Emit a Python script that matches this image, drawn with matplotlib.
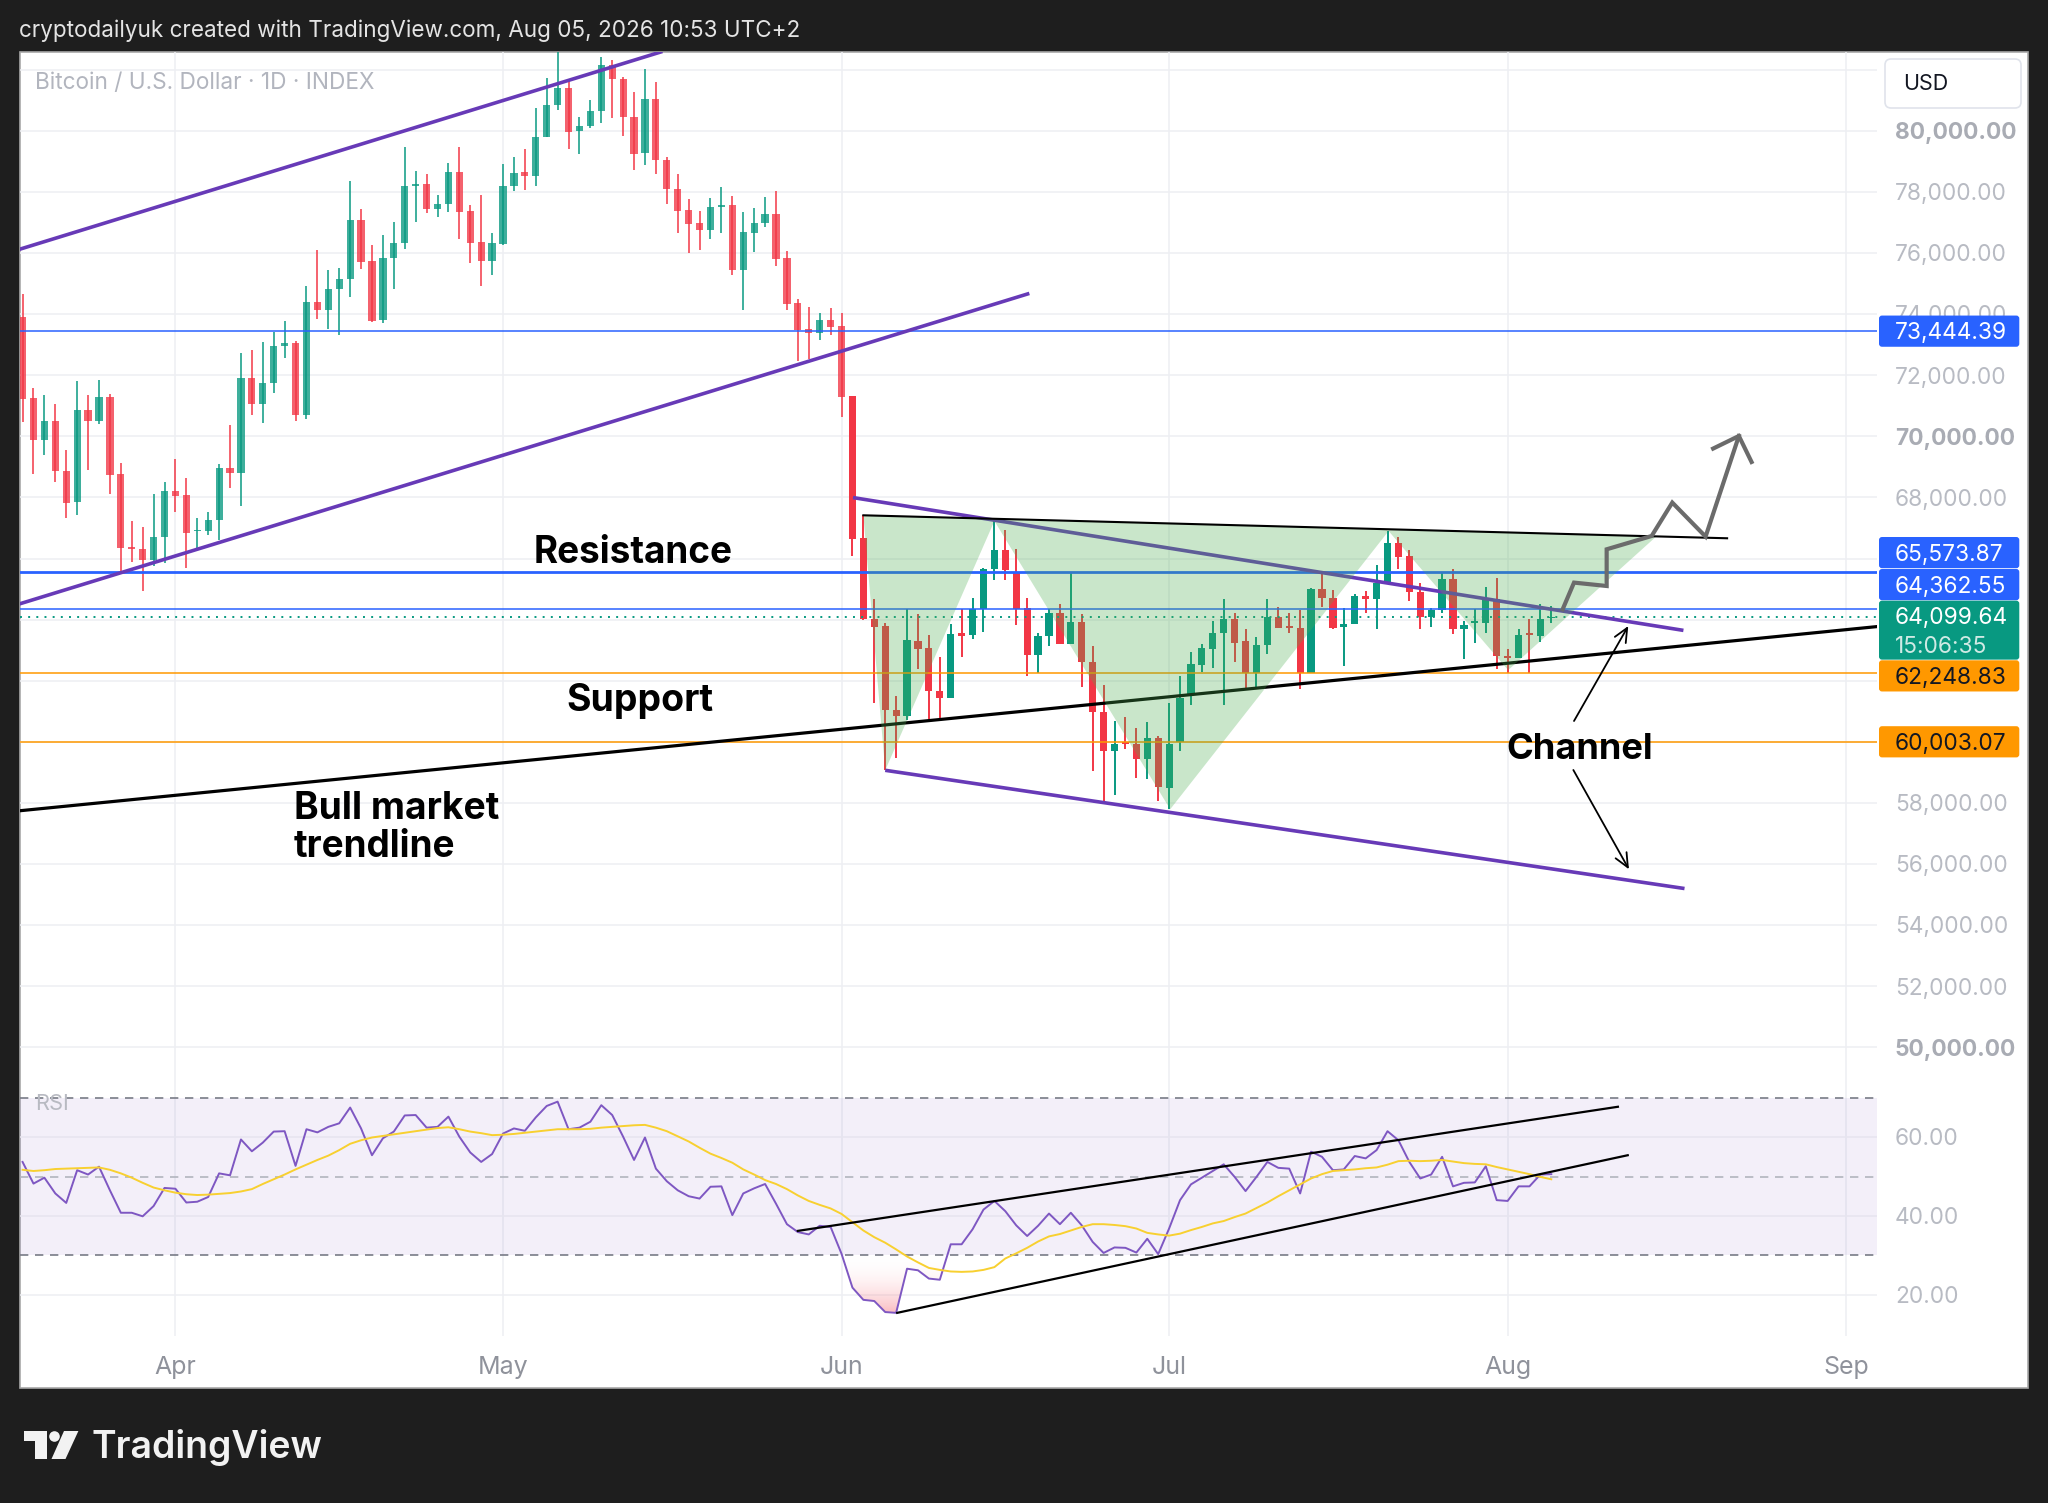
import matplotlib
matplotlib.use("Agg")
import matplotlib.pyplot as plt
import numpy as np
from matplotlib.patches import Rectangle, FancyBboxPatch, Polygon, Circle
from matplotlib.colors import LinearSegmentedColormap

# ---------------- DATA ----------------
# daily candles, index 0 = Mar 18 ... index 140 = Aug 5
opens = [73920, 71247, 69883, 70494, 68879, 67853, 70875, 70505, 71279, 68759,
         66359, 66304, 65955, 66719, 68203, 68072, 66894, 66904, 67254, 68967,
         68814, 71901, 71061, 71759, 72960, 73057, 70690, 74410, 74127, 74814,
         75163, 77094, 75730, 73815, 75829, 76318, 78190, 78255, 77428, 77613,
         78658, 77363, 76351, 75741, 76296, 78190, 78658, 78517, 79801, 80857,
         81401, 79986, 80149, 80639, 82163, 81706, 80454, 79279, 81042, 79039,
         78103, 77400, 76975, 76757, 77520, 77563, 75449, 76670, 76997, 77291,
         75853, 74360, 73509, 73400, 73803, 73618, 71308, 66687, 64036, 63796,
         61047, 60851, 63316, 63065, 61669, 61440, 63578, 63491, 64364, 65673,
         66273, 65520, 64396, 62847, 63469, 64211, 63218, 63938, 62629, 60992,
         59705, 60011, 59945, 59454, 60142, 58494, 60000, 61559, 62519, 63054,
         63577, 64014, 63305, 62269, 63163, 64090, 63796, 63720, 62269, 64996,
         64701, 63774, 63872, 64778, 64669, 65236, 66523, 66087, 64900, 64101,
         64320, 65323, 63687, 63905, 63905, 64690, 62814, 62759, 63545, 63468,
         64047]
highs = [74672, 71585, 71345, 71061, 69567, 71803, 71366, 71858, 71377, 69119,
         67243, 67046, 68104, 68508, 69250, 68628, 67330, 67526, 69108, 70374,
         72741, 72828, 73101, 73418, 73789, 73123, 74912, 76102, 75447, 75501,
         78360, 77433, 76253, 76590, 77004, 79474, 78691, 78582, 77896, 78952,
         79474, 77559, 77896, 76666, 78919, 79137, 79420, 80748, 81727, 82800,
         81618, 80454, 81020, 82413, 82326, 81749, 81270, 82021, 81597, 79148,
         78577, 77760, 77367, 77815, 78163, 77869, 77346, 77466, 77847, 78032,
         76071, 74490, 74239, 74054, 74217, 74032, 71308, 67418, 64669, 63905,
         61505, 64342, 64178, 63491, 62793, 63851, 64342, 64724, 65706, 67222,
         66927, 66327, 64724, 63578, 64342, 64506, 65520, 64178, 63142, 61854,
         60687, 60829, 60458, 60665, 60196, 61265, 62160, 62927, 63196, 63960,
         64669, 64210, 63687, 63447, 64669, 64429, 64210, 64320, 65051, 65487,
         64974, 64396, 64832, 64941, 65782, 66905, 66720, 66272, 65200, 64396,
         65520, 65672, 63960, 64342, 65083, 65378, 63054, 63709, 64036, 64505,
         64450]
lows = [70472, 68770, 69392, 68519, 67340, 67439, 68901, 70396, 68127, 65486,
        65900, 64941, 65759, 65868, 67526, 65704, 66359, 66763, 66599, 68301,
        67722, 70701, 70450, 71410, 72567, 70505, 70581, 73854, 73527, 73320,
        74574, 75469, 73750, 73706, 74838, 76144, 77014, 77298, 77178, 77341,
        76470, 75687, 74925, 75295, 76280, 78027, 78060, 78190, 79800, 80693,
        79420, 79246, 80095, 80258, 80421, 79823, 78712, 78898, 78593, 77613,
        76670, 76016, 76103, 76474, 76670, 75297, 74141, 76038, 76855, 75580,
        74141, 72474, 72528, 73160, 73313, 70620, 66097, 63990, 61287, 59072,
        59487, 60720, 62400, 60742, 60742, 61440, 62782, 63382, 63611, 65291,
        65291, 63829, 62160, 62269, 63142, 63200, 63200, 61811, 59050, 58068,
        58265, 59760, 58821, 58800, 58068, 57796, 59700, 61200, 62301, 62410,
        61200, 62629, 61777, 61723, 62869, 63741, 63578, 61745, 62250, 64429,
        63687, 62487, 63850, 64232, 63709, 65236, 65651, 64600, 63687, 63774,
        64232, 63545, 62705, 63229, 63556, 62378, 62269, 62750, 62269, 63272,
        63905]
closes = [71236, 69883, 70494, 68868, 67821, 70875, 70505, 71279, 68748, 66359,
          66326, 65955, 66708, 68214, 68050, 66850, 66937, 67265, 68977, 68814,
          71901, 71072, 71759, 72948, 73046, 70690, 74410, 74127, 74814, 75163,
          77094, 75720, 73782, 75850, 76340, 78212, 78255, 77428, 77613, 78658,
          77341, 76329, 75741, 76318, 78212, 78625, 78517, 79812, 80857, 81401,
          79953, 80149, 80661, 82163, 81695, 80443, 79246, 81042, 79039, 78103,
          77374, 76943, 76757, 77509, 77563, 75449, 76692, 76997, 77270, 75820,
          74327, 73487, 73378, 73803, 73596, 71275, 66642, 64014, 63763, 61036,
          60851, 63327, 63054, 61658, 61440, 63534, 63469, 64342, 65673, 66273,
          65629, 64364, 62847, 63469, 64211, 63218, 63938, 62618, 60981, 59705,
          59923, 59923, 59454, 60142, 58527, 59945, 61450, 62541, 63087, 63577,
          64014, 63250, 62269, 63163, 64101, 63741, 63741, 62269, 65018, 64701,
          63741, 63872, 64778, 64669, 65214, 66523, 66065, 64900, 64101, 64320,
          65323, 63687, 63840, 63949, 64647, 62814, 62759, 63490, 63512, 64036,
          64099.64]
rsi = [53.7, 48.2, 49.7, 45.7, 43.3, 51.6, 50.5, 52.5, 46.5, 40.8,
       40.8, 39.9, 42.5, 47.1, 46.9, 43.4, 43.6, 44.8, 50.8, 50.3,
       59.4, 56.4, 58.6, 61.4, 61.5, 52.7, 62.0, 61.2, 62.6, 63.5,
       67.5, 62.2, 55.4, 59.7, 61.4, 65.5, 65.6, 62.4, 62.6, 65.2,
       60.1, 56.1, 53.7, 55.7, 60.9, 62.2, 61.6, 65.0, 67.9, 69.0,
       62.0, 62.4, 63.9, 68.1, 65.6, 60.1, 54.2, 59.9, 52.0, 48.8,
       46.5, 45.0, 44.4, 47.4, 47.5, 40.2, 45.7, 47.0, 48.1, 43.1,
       37.9, 35.9, 35.3, 37.5, 37.2, 30.4, 21.8, 18.7, 18.4, 15.6,
       15.4, 26.6, 26.2, 24.1, 23.8, 32.8, 32.8, 36.6, 41.6, 43.8,
       41.2, 37.6, 34.9, 37.5, 40.6, 37.9, 40.8, 37.6, 33.4, 30.6,
       32.0, 31.9, 30.7, 34.2, 30.3, 36.8, 44.0, 48.0, 49.7, 51.4,
       53.1, 49.9, 46.3, 49.9, 53.7, 52.2, 52.0, 45.7, 56.3, 55.0,
       51.6, 51.8, 55.2, 54.6, 56.7, 61.5, 59.2, 53.7, 49.5, 50.5,
       55.0, 47.5, 48.4, 48.5, 52.6, 44.0, 43.8, 47.5, 47.5, 50.5,
       50.6]
rsi_ma = [51.7, 51.4, 51.6, 51.9, 52.0, 52.1, 52.2, 52.3, 51.7, 50.8,
          49.7, 48.4, 47.2, 46.5, 45.9, 45.5, 45.3, 45.4, 45.6, 45.8,
          46.2, 46.8, 48.1, 49.3, 50.5, 51.8, 53.0, 54.2, 55.3, 56.7,
          58.3, 59.2, 59.9, 60.3, 60.7, 61.1, 61.5, 61.9, 62.3, 62.5,
          62.0, 61.4, 61.0, 60.5, 60.6, 60.8, 61.1, 61.4, 61.7, 62.0,
          62.0, 62.0, 62.1, 62.4, 62.6, 62.8, 63.0, 63.1, 62.4, 61.5,
          60.2, 58.9, 57.3, 55.8, 54.7, 53.5, 51.8, 50.5, 49.1, 48.1,
          46.8, 45.2, 43.8, 42.8, 41.9, 40.5, 38.4, 36.3, 34.6, 33.2,
          31.5, 29.7, 28.2, 26.8, 26.3, 25.9, 25.8, 25.9, 26.3, 27.0,
          29.2, 30.5, 31.9, 33.5, 34.8, 35.4, 36.3, 37.2, 37.9, 37.9,
          37.7, 37.4, 36.8, 35.7, 35.3, 35.0, 35.5, 36.4, 37.2, 38.1,
          38.7, 39.7, 40.6, 42.0, 43.4, 45.0, 46.5, 48.0, 49.5, 50.6,
          51.4, 51.6, 51.8, 52.1, 52.3, 53.0, 53.9, 54.0, 53.9, 54.0,
          54.2, 53.8, 53.4, 53.2, 53.1, 52.4, 51.8, 51.2, 50.6, 49.9,
          49.3]

month_labels = ["Apr", "May", "Jun", "Jul", "Aug", "Sep"]
month_index = [14, 44, 75, 105, 136, 167]

price_ticks = [50000, 52000, 54000, 56000, 58000, 60000, 62000, 64000, 66000,
               68000, 70000, 72000, 74000, 76000, 78000, 80000, 82000]
rsi_ticks = [60, 40, 20]

# horizontal levels
level_values = [73444.39, 65573.87, 64362.55, 62248.83, 60003.07]
level_colors = ["#2962ff", "#2962ff", "#2962ff", "#ff9800", "#ff9800"]
last_price = 64099.64
countdown = "15:06:35"

# drawings (x = day index, y = price)
up_channel_top = ([-0.28, 58.6], [76124, 82600])
up_channel_bot = ([-0.28, 92.2], [64517, 74680])
down_channel_top = ([76.05, 152.1], [67997, 63650])
down_channel_bot = ([79.0, 152.2], [59070, 55200])
bull_line = ([-0.28, 170.0], [57745, 63780])
ihs_x = [77.0, 79.0, 89.0, 105.1, 125.1, 136.05, 149.6]
ihs_y = [67417, 59070, 67231, 57794, 66903, 62350, 66720]
neck_line = ([77.0, 156.1], [67417, 66665])
path_x = [141.04, 142.08, 145.07, 145.07, 149.19, 151.08, 154.13, 157.18]
path_y = [64340, 65214, 65103, 66304, 66740, 67833, 66720, 70013]
path_head_x = [154.82, 157.18, 158.34]
path_head_y = [69601, 70013, 69162]
channel_arrow_up = ((142.08, 60684), (147.05, 63794))
channel_arrow_dn = ((142.02, 59080), (147.11, 55830))
rsi_line_top = ([71.0, 146.1], [36.2, 67.7])
rsi_line_bot = ([80.1, 147.0], [15.4, 55.4])

# ---------------- LAYOUT ----------------
W, H = 2048, 1503
fig = plt.figure(figsize=(W / 100, H / 100), dpi=100)
DARK = "#1e1e1e"
fig.patch.set_facecolor(DARK)
FONT = "Inter"

PL, PR, PT, PB = 19.5, 1876.7, 51.7, 1078.0
RT, RB = 1078.0, 1335.7
XMIN, XMAX = -0.28, 169.8
YMIN, YMAX = 48998, 82592
RMIN, RMAX = 9.6, 75.0

def xpx(i):
    return PL + (i - XMIN) / (XMAX - XMIN) * (PR - PL)

def ypx(p):
    return PT + (YMAX - p) / (YMAX - YMIN) * (PB - PT)

def rpx(v):
    return RT + (RMAX - v) / (RMAX - RMIN) * (RB - RT)

bg = fig.add_axes([0, 0, 1, 1])
bg.set_xlim(0, W); bg.set_ylim(H, 0); bg.axis("off"); bg.set_zorder(0)
bg.add_patch(Rectangle((19.5, 51.7), 2028 - 19.5, 1387.7 - 51.7,
                       facecolor="white", edgecolor="#a8a8a8", lw=1.2))

ax = fig.add_axes([PL / W, 1 - PB / H, (PR - PL) / W, (PB - PT) / H])
rax = fig.add_axes([PL / W, 1 - RB / H, (PR - PL) / W, (RB - RT) / H])
for a in (ax, rax):
    a.set_zorder(1)
    a.patch.set_alpha(0)
    for s in a.spines.values():
        s.set_visible(False)
    a.set_xticks([]); a.set_yticks([])
    a.set_xlim(XMIN, XMAX)
ax.set_ylim(YMIN, YMAX)
rax.set_ylim(RMIN, RMAX)

GRID = "#eeeff3"
for p in price_ticks:
    ax.axhline(p, color=GRID, lw=1.1, zorder=0)
for m in month_index:
    ax.axvline(m, color=GRID, lw=1.1, zorder=0)
    rax.axvline(m, color=GRID, lw=1.1, zorder=0)

# ---------------- CANDLES ----------------
idx = np.arange(len(closes))
o = np.array(opens, float); c = np.array(closes, float)
h = np.array(highs, float); l = np.array(lows, float)
up = c >= o
for i in idx:
    col = "#089981" if up[i] else "#f23645"
    alpha = 0.78 if i < 76 else 1.0
    ax.vlines(i, l[i], h[i], color=col, lw=1.4, alpha=alpha, zorder=3)
    lo = min(o[i], c[i]); hgt = max(abs(c[i] - o[i]), 45)
    ax.bar(i, hgt, bottom=lo, width=0.66, color=col, alpha=alpha,
           linewidth=0, zorder=3)

# ---------------- LEVELS & DRAWINGS ----------------
for v, col, lw in zip(level_values, level_colors, [1.1, 2.0, 1.1, 1.1, 1.1]):
    ax.axhline(v, color=col, lw=lw, zorder=3.5)
ax.axhline(last_price, color="#089981", lw=1.4, ls=(0, (1.0, 3.2)), zorder=3.5)

PURPLE = "#673ab7"
for ln in (up_channel_top, up_channel_bot, down_channel_top, down_channel_bot):
    ax.plot(ln[0], ln[1], color=PURPLE, lw=2.6, solid_capstyle="butt", zorder=4)
ax.plot(bull_line[0], bull_line[1], color="black", lw=2.3, zorder=4)

ax.fill(ihs_x, ihs_y, color="#4caf50", alpha=0.30, lw=0, zorder=5)
ax.plot(neck_line[0], neck_line[1], color="black", lw=1.5, zorder=6)
ax.plot(path_x, path_y, color="#6b6b6b", lw=3.0, solid_joinstyle="miter", zorder=6)
ax.plot(path_head_x, path_head_y, color="#6b6b6b", lw=3.0, solid_joinstyle="miter",
        zorder=6)
for start, tip in (channel_arrow_up, channel_arrow_dn):
    ax.annotate("", xy=tip, xytext=start,
                arrowprops=dict(arrowstyle="->,head_length=1.0,head_width=0.45",
                                color="black", lw=1.3, shrinkA=0, shrinkB=0),
                zorder=6)

# ---------------- TEXT HELPERS ----------------
renderer = fig.canvas.get_renderer()

def fit(t, target):
    w = t.get_window_extent(renderer).width
    t.set_fontsize(t.get_fontsize() * target / w)
    return t

def ann(x, y, s, target, ha="center"):
    t = ax.text(x, y, s, ha=ha, va="baseline", fontsize=26, fontfamily=FONT,
                fontweight="bold", color="black", zorder=7)
    fit(t, target)

ann(55.93, 65846, "Resistance", 199.4)
ann(56.5, 61012, "Support", 146.7)
ann(24.83, 57466, "Bull market", 205, ha="left")
ann(24.83, 56245, "trendline", 161.7, ha="left")
ann(142.58, 59430, "Channel", 147)

# ---------------- RSI PANE ----------------
rax.axhspan(30, 70, color="#7e57c2", alpha=0.09, lw=0, zorder=0.5)
for v in rsi_ticks:
    rax.axhline(v, color="#e7e4ef" if 30 < v < 70 else GRID, lw=1.1, zorder=0.6)
rax.axhline(70, color="#787b86", lw=1.2, ls=(0, (5, 4)), zorder=1)
rax.axhline(30, color="#787b86", lw=1.2, ls=(0, (5, 4)), zorder=1)
rax.axhline(50, color="#b2b5be", lw=1.2, ls=(0, (5, 4)), zorder=1)

r = np.array(rsi, float)
coll = rax.fill_between(idx, r, 30, where=r < 30, interpolate=True,
                        facecolor="none", edgecolor="none")
cmap = LinearSegmentedColormap.from_list(
    "pk", [(1, 1, 1, 0.0), (0.95, 0.21, 0.27, 0.50)])
grad = np.linspace(0, 1, 256).reshape(-1, 1)
im = rax.imshow(grad, extent=[70, 90, 12, 30], origin="upper", aspect="auto",
                cmap=cmap, zorder=2)
if len(coll.get_paths()):
    im.set_clip_path(coll.get_paths()[0], transform=rax.transData)
rax.set_xlim(XMIN, XMAX); rax.set_ylim(RMIN, RMAX)

rax.plot(idx, r, color="#7e57c2", lw=1.4, zorder=3)
rax.plot(idx, rsi_ma, color="#f8d030", lw=1.4, zorder=3.2)
rax.plot(rsi_line_top[0], rsi_line_top[1], color="black", lw=1.6, zorder=4)
rax.plot(rsi_line_bot[0], rsi_line_bot[1], color="black", lw=1.6, zorder=4)

# ---------------- FOREGROUND (pixel space) ----------------
fg = fig.add_axes([0, 0, 1, 1])
fg.set_xlim(0, W); fg.set_ylim(H, 0); fg.axis("off"); fg.set_zorder(3)
fg.patch.set_alpha(0)

t = fg.text(19.4, 37.3, "cryptodailyuk created with TradingView.com, Aug 05, 2026 10:53 UTC+2",
            ha="left", va="baseline", color="#e4e4e4", fontsize=15, fontfamily=FONT)
fit(t, 780)
t = fg.text(34.7, 89.3, "Bitcoin / U.S. Dollar \u00b7 1D \u00b7 INDEX", ha="left",
            va="baseline", color="#b2b5be", fontsize=15, fontfamily=FONT)
fit(t, 340)
t = fg.text(34.8, 1109.5, "RSI", ha="left", va="baseline", color="#b8bac2",
            fontsize=14, fontfamily=FONT)
fit(t, 34)

# price axis labels
LX = 1895
ref = fg.text(0, 0, "78,000.00", fontsize=17, fontfamily=FONT)
fit(ref, 111.7)
PFS = ref.get_fontsize()
ref.remove()
CAP = PFS * 100 / 72 * 0.727

def axis_label(y_center, s, color="#b2b5be", weight="normal", size=PFS):
    fg.text(LX, y_center + CAP / 2, s, ha="left", va="baseline", color=color,
            fontsize=size, fontfamily=FONT, fontweight=weight)

# tag geometry (pixel offsets so stacked tags do not overlap)
tag_offsets = [0.0, -19.0, -24.0, 2.7, 0.0]
TAG_H = 31.2
tag_spans = [(ypx(v) + off - TAG_H / 2, ypx(v) + off + TAG_H / 2)
             for v, off in zip(level_values, tag_offsets)]
tag_spans.append((ypx(last_price) - 16.0, ypx(last_price) + 43.0))

def hidden_by_tag(y):
    # a tick label whose centre sits inside a tag is fully covered by it
    return any(a + 4 < y < b - 4 for a, b in tag_spans)

for p in price_ticks:
    y = ypx(p)
    if y < 100 or y > PB - 10 or hidden_by_tag(y):
        continue
    bold = p % 10000 == 0
    axis_label(y, f"{p:,.2f}", color="#a9acb4" if bold else "#b8bbc3",
               weight="bold" if bold else "normal")
for v in rsi_ticks:
    axis_label(rpx(v), f"{v:.2f}", color="#b8bbc3")

# coloured price tags
def tag(y_top, hgt, face, lines, colors):
    fg.add_patch(FancyBboxPatch((1879, y_top), 140.3, hgt,
                                boxstyle="round,pad=0,rounding_size=3",
                                facecolor=face, edgecolor="none", zorder=5))
    n = len(lines)
    for k, (s, col) in enumerate(zip(lines, colors)):
        yc = y_top + hgt * (k + 0.5) / n
        fg.text(LX, yc + CAP / 2, s, ha="left", va="baseline", color=col,
                fontsize=PFS, fontfamily=FONT, zorder=6)

for v, col, (a, b) in zip(level_values, level_colors, tag_spans[:5]):
    txtcol = "white" if col == "#2962ff" else "#131722"
    tag(a, b - a, col, [f"{v:,.2f}"], [txtcol])
a, b = tag_spans[5]
tag(a, b - a, "#089981", [f"{last_price:,.2f}", countdown], ["white", "#cfeae4"])

# USD box
fg.add_patch(FancyBboxPatch((1885, 59), 136, 49, boxstyle="round,pad=0,rounding_size=6",
                            facecolor="white", edgecolor="#e0e3eb", lw=1.2, zorder=5))
t = fg.text(1902.7, 90.5, "USD", ha="left", va="baseline", color="#131722",
            fontsize=15, fontfamily=FONT, zorder=6)
fit(t, 45.3)

# time axis
ref = fg.text(0, 0, "Apr", fontsize=16, fontfamily=FONT)
fit(ref, 42)
TFS = ref.get_fontsize()
ref.remove()
for lab, m in zip(month_labels, month_index):
    fg.text(xpx(m), 1365 + TFS * 100 / 72 * 0.727 / 2, lab, ha="center", va="baseline",
            color="#8f929b", fontsize=TFS, fontfamily=FONT)

# footer logo
WHITE = "#f2f2f2"
fg.add_patch(Polygon([(23.5, 1431), (47, 1431), (47, 1459), (34.5, 1459),
                      (34.5, 1440.5), (23.5, 1440.5)], closed=True,
                     facecolor=WHITE, edgecolor="none"))
fg.add_patch(Circle((54.5, 1436.5), 5.3, facecolor=WHITE, edgecolor="none"))
fg.add_patch(Polygon([(64, 1431), (78.4, 1431), (65.5, 1459), (51.5, 1459)],
                     closed=True, facecolor=WHITE, edgecolor="none"))
t = fg.text(91.4, 1458.3, "TradingView", ha="left", va="baseline", color=WHITE,
            fontsize=26, fontfamily=FONT, fontweight="semibold")
fit(t, 231)

fig.savefig("out.png", dpi=100, facecolor=fig.get_facecolor())
